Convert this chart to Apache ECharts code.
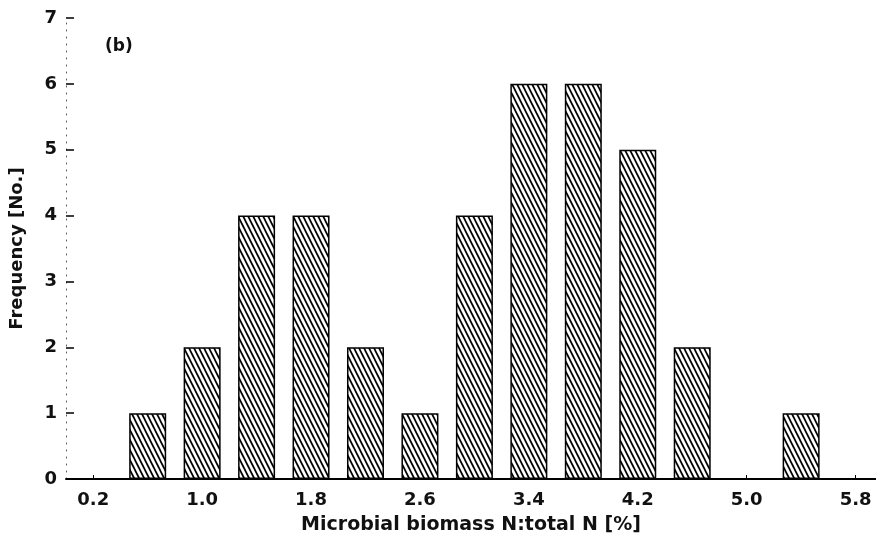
<!DOCTYPE html>
<html>
<head>
<meta charset="utf-8">
<script src="https://cdn.jsdelivr.net/npm/echarts@6/dist/echarts.min.js"></script>
<style>
  html, body { margin: 0; padding: 0; background: #fff; }
  #chart { width: 876px; height: 547px; }
</style>
</head>
<body>
<div id="chart"></div>
<script>
// Class midpoints of microbial biomass N : total N (%) and counts per class
const binCenters = [0.6, 1.0, 1.4, 1.8, 2.2, 2.6, 3.0, 3.4, 3.8, 4.2, 4.6, 5.0, 5.4];
const frequencies = [1, 2, 4, 4, 2, 1, 4, 6, 6, 5, 2, 0, 1];
const xTickLabels = [0.2, 1.0, 1.8, 2.6, 3.4, 4.2, 5.0, 5.8];
const xMinorTicks = [0.2, 0.6, 1.0, 1.4, 1.8, 2.2, 2.6, 3.0, 3.4, 3.8, 4.2, 4.6, 5.0, 5.4, 5.8];
const yTickLabels = [0, 1, 2, 3, 4, 5, 6, 7];

// Diagonal hatch fill ("\\\\") used for every bar
function hatchPattern() {
  const w = 5, h = 10;
  const c = document.createElement('canvas');
  c.width = w; c.height = h;
  const g = c.getContext('2d');
  g.fillStyle = '#fff';
  g.fillRect(0, 0, w, h);
  g.strokeStyle = '#000';
  g.lineWidth = 1.7;
  for (let k = -1; k <= 1; k++) {
    g.beginPath();
    g.moveTo(k * w - w, -h);
    g.lineTo(k * w + 2 * w, 2 * h);
    g.stroke();
  }
  return c;
}

const FONT = 'DejaVu Sans';
const chart = echarts.init(document.getElementById('chart'), null, { renderer: 'canvas' });

chart.setOption({
  backgroundColor: '#ffffff',
  animation: false,
  title: {
    text: '(b)',
    left: 100,
    top: 33,
    textStyle: { fontFamily: FONT, fontWeight: 'bold', fontSize: 17, color: '#111' }
  },
  grid: { left: 65, right: 0, top: 18, bottom: 68, containLabel: false },
  xAxis: {
    type: 'value',
    min: 0,
    max: 5.95,
    name: 'Microbial biomass N:total N [%]',
    nameLocation: 'middle',
    nameGap: 37,
    nameTextStyle: { fontFamily: FONT, fontWeight: 'bold', fontSize: 19, color: '#111' },
    axisLine: { show: true, lineStyle: { color: '#000', width: 2 } },
    axisTick: {
      show: true, inside: true, length: 4,
      customValues: xMinorTicks,
      lineStyle: { color: '#000', width: 1 }
    },
    axisLabel: {
      customValues: xTickLabels,
      formatter: v => v.toFixed(1),
      margin: 12,
      fontFamily: FONT, fontWeight: 'bold', fontSize: 18, color: '#111'
    },
    splitLine: { show: false }
  },
  yAxis: {
    type: 'value',
    min: 0,
    max: 7,
    interval: 1,
    name: 'Frequency [No.]',
    nameLocation: 'middle',
    nameGap: 40,
    nameTextStyle: { fontFamily: FONT, fontWeight: 'bold', fontSize: 18, color: '#111' },
    axisLine: { show: true, lineStyle: { color: '#555', width: 1, type: [1, 6] } },
    axisTick: { show: true, inside: true, length: 8, lineStyle: { color: '#000', width: 1.5 } },
    axisLabel: {
      margin: 9,
      formatter: v => yTickLabels.includes(v) ? String(v) : '',
      fontFamily: FONT, fontWeight: 'bold', fontSize: 18, color: '#111'
    },
    splitLine: { show: false }
  },
  series: [{
    type: 'bar',
    data: binCenters.map((x, i) => [x, frequencies[i]]),
    barWidth: 37,
    itemStyle: {
      color: { image: hatchPattern(), repeat: 'repeat' },
      borderColor: '#000',
      borderWidth: 1.5
    }
  }]
});
</script>
</body>
</html>
